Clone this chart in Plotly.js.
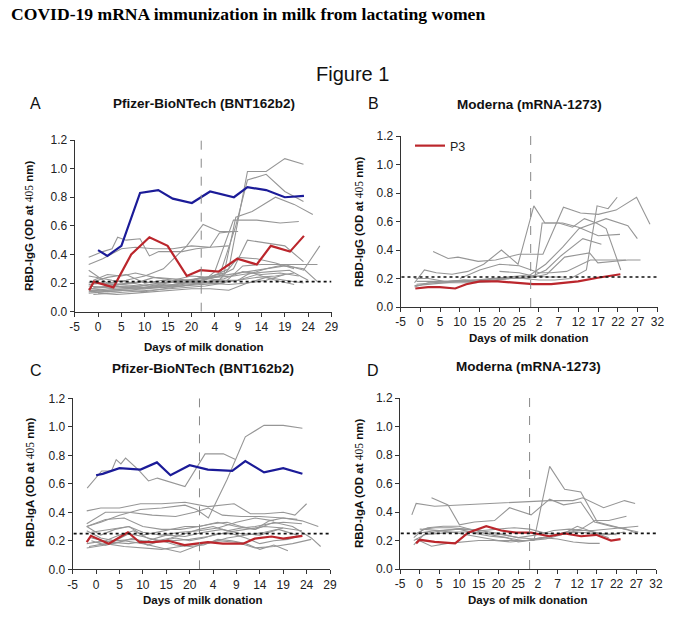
<!DOCTYPE html>
<html>
<head>
<meta charset="utf-8">
<script src="https://cdn.plot.ly/plotly-3.0.1.min.js"></script>
<style>html,body{margin:0;padding:0;background:#fff;}#chart{width:680px;height:634px;}</style>
</head>
<body>
<div id="chart"></div>
<script>
// ---------- axis tick labels ----------
const tickValsPfizer = [-5, 0, 5, 10, 15, 20, 25, 30, 35, 40, 45, 50];
const tickTextPfizer = ["-5", "0", "5", "10", "15", "20", "4", "9", "14", "19", "24", "29"];
const tickValsModerna = [-5, 0, 5, 10, 15, 20, 25, 30, 35, 40, 45, 50, 55, 60];
const tickTextModerna = ["-5", "0", "5", "10", "15", "20", "25", "2", "7", "12", "17", "22", "27", "32"];
const yTickVals = [0, 0.2, 0.4, 0.6, 0.8, 1.0, 1.2];

// second-dose marker and cut-off thresholds
const secondDoseA = 22.1, secondDoseB = 27.9, secondDoseC = 22.1, secondDoseD = 27.9;
const cutoffIgG = 0.21, cutoffIgA = 0.25;

// ---------- Panel A : Pfizer IgG ----------
const A_blue_x = [0, 2, 5, 9, 12.9, 16, 20.1, 24, 29.1, 32, 36, 40, 44.1];
const A_blue_y = [0.43, 0.39, 0.46, 0.83, 0.85, 0.79, 0.76, 0.84, 0.80, 0.87, 0.85, 0.80, 0.81];
const A_red_x = [-1.9, -0.9, 3.3, 7.1, 11, 14.9, 19, 21.9, 25.8, 29.8, 34, 37, 41.1, 44.1];
const A_red_y = [0.15, 0.21, 0.17, 0.40, 0.52, 0.46, 0.25, 0.29, 0.28, 0.37, 0.33, 0.46, 0.42, 0.53];
const A_gray_x = [
  [-2, 1, 5, 9, 13, 16, 20, 24, 28, 32, 36, 40, 44],
  [-2, 2, 6, 10, 14, 18, 22, 26, 29.5, 32, 36, 40, 44],
  [-1, 3, 7, 11, 15, 19, 23, 27, 29.5, 33, 38, 42, 46],
  [-2, 2, 6, 10, 14, 18, 22, 25, 29, 34, 39, 43],
  [-2, 2, 6, 10, 14, 19, 22.5, 26, 30],
  [-2, 1, 3, 4.2, 6, 9, 11, 13, 18, 21, 24, 26, 29],
  [-2, 1, 5, 8, 12, 16, 20, 24, 28],
  [-2, 2, 6, 10, 14, 18, 22, 26, 30, 32, 36, 40, 44, 47.5],
  [-2, 2, 6, 10, 14, 18, 22, 26, 29, 32, 36, 40, 44],
  [-1, 3, 7, 11, 15, 19, 23, 27, 31, 35, 39, 43, 47],
  [-2, 2, 6, 10, 14, 18, 22, 26, 30, 34, 38, 42],
  [-1, 3, 7, 11, 15, 19, 23, 27, 31, 35, 39, 43],
  [-2, 1, 5, 9, 13, 17, 21, 25, 29, 33, 37, 41, 45],
  [-1.5, 2, 6, 10, 14, 18, 22, 26, 30, 34, 38, 42],
  [-2, 3, 8, 12, 16, 20, 24, 28, 32, 36, 40, 44, 47],
  [-1, 2, 5, 8, 12, 16, 20, 24, 28, 32, 36, 40, 44],
  [0, 4, 8, 12, 16, 20, 24, 28, 32, 36, 40],
  [-2, 2, 6, 10, 14, 18, 22, 26, 30, 34, 38, 42]
];
const A_gray_y = [
  [0.18, 0.17, 0.19, 0.18, 0.20, 0.21, 0.22, 0.24, 0.30, 0.98, 0.98, 1.07, 1.03],
  [0.16, 0.15, 0.16, 0.17, 0.18, 0.20, 0.22, 0.25, 0.60, 0.92, 0.96, 0.84, 0.77],
  [0.20, 0.19, 0.20, 0.18, 0.20, 0.22, 0.24, 0.27, 0.66, 0.70, 0.80, 0.75, 0.68],
  [0.15, 0.14, 0.15, 0.16, 0.17, 0.19, 0.20, 0.28, 0.64, 0.64, 0.62, 0.63],
  [0.29, 0.20, 0.22, 0.25, 0.30, 0.46, 0.61, 0.56, 0.56],
  [0.38, 0.42, 0.44, 0.52, 0.50, 0.51, 0.39, 0.42, 0.42, 0.44, 0.45, 0.55, 0.56],
  [0.33, 0.37, 0.44, 0.45, 0.44, 0.44, 0.46, 0.45, 0.46],
  [0.20, 0.24, 0.26, 0.20, 0.22, 0.20, 0.24, 0.22, 0.22, 0.26, 0.30, 0.33, 0.29, 0.46],
  [0.14, 0.16, 0.17, 0.16, 0.18, 0.20, 0.22, 0.25, 0.30, 0.50, 0.48, 0.46, 0.35],
  [0.12, 0.13, 0.14, 0.15, 0.16, 0.17, 0.18, 0.20, 0.32, 0.33, 0.33, 0.33, 0.33],
  [0.13, 0.14, 0.15, 0.14, 0.16, 0.18, 0.20, 0.22, 0.38, 0.37, 0.34, 0.30],
  [0.17, 0.18, 0.17, 0.19, 0.18, 0.20, 0.21, 0.23, 0.28, 0.26, 0.27, 0.25],
  [0.19, 0.20, 0.19, 0.21, 0.20, 0.22, 0.21, 0.24, 0.25, 0.27, 0.28, 0.29, 0.22],
  [0.14, 0.15, 0.16, 0.17, 0.17, 0.18, 0.19, 0.20, 0.22, 0.24, 0.25, 0.27],
  [0.25, 0.22, 0.20, 0.24, 0.22, 0.25, 0.24, 0.26, 0.28, 0.30, 0.32, 0.30, 0.21],
  [0.22, 0.26, 0.25, 0.27, 0.24, 0.23, 0.22, 0.20, 0.19, 0.20, 0.24, 0.22, 0.20],
  [0.13, 0.12, 0.13, 0.14, 0.15, 0.16, 0.16, 0.15, 0.20, 0.22, 0.26],
  [0.16, 0.17, 0.18, 0.17, 0.19, 0.18, 0.20, 0.21, 0.22, 0.26, 0.22, 0.19]
];

// ---------- Panel B : Moderna IgG ----------
const B_red_x = [-1.3, 1.9, 4.9, 8.8, 11.6, 15, 19.6, 24.7, 28.5, 33.1, 39.9, 44.9, 50.6];
const B_red_y = [0.13, 0.14, 0.14, 0.13, 0.16, 0.18, 0.18, 0.17, 0.16, 0.16, 0.18, 0.205, 0.23];
const B_gray_x = [
  [-1.5, 1, 4, 8, 12, 16, 20.5, 24.7, 28.7, 31.5, 36, 40, 45, 50.5],
  [3.2, 7, 9.5, 14.6, 19, 25, 31, 36.2, 40.5, 45, 49.5, 54.7, 58.1],
  [-1.5, 2, 6, 10, 14, 18, 22, 26, 30, 34, 38, 42, 44.7, 47.5, 49.8],
  [-1.5, 2, 6, 10, 14, 18, 22, 26, 29, 30.8, 35, 38.5, 41.5, 44.5, 47, 50.7],
  [-1, 3, 7, 11, 15, 19, 23, 27, 31.7, 36, 40.1, 47, 52.5, 54.9],
  [-1, 3, 7, 11, 15, 19, 23, 27, 31.8, 35.6, 41.1, 45.8],
  [-1.5, 2, 6, 10, 14, 18, 23, 27, 32, 36.5, 41.1, 42.8, 44.9, 52.5, 55.7],
  [10, 15, 20, 25, 30, 33, 37, 41, 43, 48, 52],
  [20, 25, 28, 32, 36]
];
const B_gray_y = [
  [0.17, 0.26, 0.24, 0.23, 0.25, 0.30, 0.40, 0.30, 0.71, 0.59, 0.59, 0.56, 0.50, 0.51],
  [0.39, 0.34, 0.35, 0.32, 0.33, 0.37, 0.37, 0.70, 0.66, 0.65, 0.68, 0.77, 0.58],
  [0.14, 0.17, 0.17, 0.17, 0.17, 0.18, 0.20, 0.20, 0.19, 0.19, 0.20, 0.26, 0.71, 0.69, 0.77],
  [0.20, 0.20, 0.18, 0.18, 0.19, 0.20, 0.21, 0.22, 0.21, 0.59, 0.59, 0.56, 0.62, 0.59, 0.55, 0.26],
  [0.16, 0.17, 0.18, 0.19, 0.19, 0.20, 0.20, 0.21, 0.30, 0.42, 0.55, 0.62, 0.57, 0.48],
  [0.18, 0.18, 0.18, 0.19, 0.18, 0.20, 0.21, 0.20, 0.26, 0.36, 0.48, 0.44],
  [0.15, 0.16, 0.17, 0.18, 0.18, 0.19, 0.20, 0.20, 0.23, 0.35, 0.37, 0.38, 0.31, 0.33, 0.33],
  [0.20, 0.26, 0.30, 0.29, 0.24, 0.24, 0.25, 0.30, 0.33, 0.33, 0.33],
  [0.25, 0.24, 0.22, 0.21, 0.21]
];

// ---------- Panel C : Pfizer IgA ----------
const C_blue_x = [0, 1.4, 5, 9.5, 13, 15.9, 20, 23.9, 29.1, 31.9, 35.9, 40, 44.1];
const C_blue_y = [0.66, 0.67, 0.71, 0.70, 0.75, 0.66, 0.73, 0.70, 0.69, 0.76, 0.68, 0.71, 0.67];
const C_red_x = [-2, -1.1, 2.7, 6.8, 9.3, 12.1, 15.4, 18.9, 23.9, 27.1, 31.4, 33.9, 37.5, 40, 44.1];
const C_red_y = [0.19, 0.235, 0.18, 0.26, 0.19, 0.19, 0.20, 0.17, 0.19, 0.18, 0.18, 0.215, 0.23, 0.215, 0.235];
const C_gray_x = [
  [-2, 1, 5, 9.5, 14, 19, 21.5, 24, 28, 31.9, 35.9, 40, 44.1],
  [-1.9, 1.2, 3.3, 4.3, 5.3, 6.3, 9, 11.2, 13.1, 19, 23.3, 27.2, 29.8],
  [-2, 1, 5, 9.5, 14, 19, 23.9, 29.5, 33, 36, 40, 42.5, 45],
  [-2, 2, 7, 12, 17, 21, 24, 27, 31, 35, 40, 44, 47.5],
  [-2, 2, 6, 10, 14, 18, 22, 26, 30, 34, 38, 42, 46, 48],
  [-2, 1, 4, 7, 10, 13, 16, 19, 22, 25, 28, 31, 34, 37, 40, 43],
  [-2, 1, 4, 7, 10, 13, 16, 19, 22, 25, 28, 31, 34, 37, 40, 44],
  [-2, 2, 5, 8, 11, 14, 17, 20, 23, 26, 29, 32, 35, 38, 41, 44],
  [-1.5, 2, 6, 10, 14, 18, 22, 26, 30, 34, 38, 42, 46],
  [-1, 2, 5, 8, 11, 14, 17, 20, 23, 26, 29, 32, 35, 38, 41],
  [-1, 3, 7, 11, 15, 19, 23, 27, 31, 35, 39, 43],
  [0, 4, 8, 12, 16, 20, 24, 28, 32, 36, 40, 44],
  [-2, 2, 6, 10, 14, 18, 22, 25, 28, 32, 36, 40],
  [-1, 3, 7, 10, 14, 18, 22, 26, 30, 34, 38]
];
const C_gray_y = [
  [0.30, 0.33, 0.38, 0.42, 0.43, 0.45, 0.42, 0.36, 0.63, 0.93, 1.01, 1.01, 0.99],
  [0.57, 0.69, 0.69, 0.77, 0.74, 0.78, 0.70, 0.62, 0.64, 0.58, 0.81, 0.81, 0.77],
  [0.41, 0.43, 0.43, 0.46, 0.46, 0.47, 0.44, 0.46, 0.39, 0.39, 0.40, 0.38, 0.46],
  [0.32, 0.40, 0.40, 0.38, 0.37, 0.40, 0.43, 0.38, 0.37, 0.37, 0.36, 0.34, 0.30],
  [0.30, 0.35, 0.36, 0.30, 0.28, 0.28, 0.30, 0.33, 0.30, 0.28, 0.33, 0.30, 0.22, 0.16],
  [0.30, 0.24, 0.28, 0.30, 0.24, 0.26, 0.28, 0.30, 0.30, 0.32, 0.33, 0.30, 0.28, 0.34, 0.36, 0.35],
  [0.27, 0.22, 0.20, 0.25, 0.23, 0.20, 0.22, 0.25, 0.28, 0.30, 0.27, 0.29, 0.30, 0.32, 0.33, 0.32],
  [0.18, 0.20, 0.24, 0.27, 0.22, 0.20, 0.22, 0.20, 0.22, 0.25, 0.25, 0.22, 0.18, 0.20, 0.21, 0.24],
  [0.16, 0.18, 0.16, 0.15, 0.14, 0.16, 0.18, 0.20, 0.19, 0.15, 0.16, 0.18, 0.21],
  [0.20, 0.17, 0.19, 0.22, 0.17, 0.20, 0.17, 0.16, 0.17, 0.21, 0.20, 0.18, 0.14, 0.17, 0.13],
  [0.22, 0.19, 0.18, 0.20, 0.24, 0.23, 0.26, 0.28, 0.25, 0.24, 0.28, 0.24],
  [0.19, 0.20, 0.21, 0.19, 0.20, 0.21, 0.23, 0.26, 0.28, 0.30, 0.29, 0.27],
  [0.15, 0.17, 0.20, 0.18, 0.15, 0.12, 0.17, 0.19, 0.22, 0.24, 0.26, 0.29],
  [0.26, 0.28, 0.30, 0.26, 0.24, 0.26, 0.27, 0.29, 0.33, 0.36, 0.34]
];

// ---------- Panel D : Moderna IgA ----------
const D_red_x = [-0.9, 0, 3.8, 9, 12.3, 16.9, 20.7, 24.5, 28.3, 32.9, 36.8, 41, 44.8, 48.6, 51];
const D_red_y = [0.18, 0.205, 0.19, 0.18, 0.255, 0.30, 0.27, 0.255, 0.255, 0.23, 0.25, 0.23, 0.24, 0.20, 0.21];
const D_gray_x = [
  [-2, -0.9, 3.8, 33, 38.9, 41.4, 46.7, 52, 54.7],
  [3, 7.2, 10.1, 13.9, 19, 22.8, 28.3, 33, 36.5, 40.9, 44.4, 48.5, 52.5, 55],
  [-1.5, 2, 6, 10, 14, 18, 22, 26, 29, 33, 36.8, 40.9, 45.1, 49, 52, 55.5],
  [-1.5, 1, 5, 9, 13, 17, 21, 25, 29, 33, 37, 41, 44.5, 48, 52.5],
  [-1.5, 1, 4, 8, 12, 16, 20, 24, 28, 32, 36, 40, 44, 48, 52, 55.5],
  [-1.5, 2, 6, 10, 14, 18, 22, 25, 28, 32, 36, 40, 44, 48, 52],
  [-1, 3, 7, 11, 15, 19, 23, 27, 31, 35, 39, 43, 45.7],
  [-0.5, 4, 8, 12, 16, 20, 24, 28, 32, 36, 40, 44, 48],
  [0, 5, 10, 15, 20, 25, 30, 34, 38, 42, 46, 50]
];
const D_gray_y = [
  [0.38, 0.46, 0.44, 0.48, 0.48, 0.50, 0.43, 0.48, 0.46],
  [0.50, 0.45, 0.31, 0.33, 0.34, 0.43, 0.38, 0.49, 0.45, 0.47, 0.33, 0.30, 0.28, 0.25],
  [0.20, 0.25, 0.27, 0.28, 0.25, 0.23, 0.22, 0.20, 0.20, 0.72, 0.56, 0.54, 0.33, 0.30, 0.28, 0.26],
  [0.17, 0.24, 0.25, 0.26, 0.26, 0.25, 0.24, 0.22, 0.21, 0.23, 0.26, 0.28, 0.34, 0.34, 0.37],
  [0.22, 0.28, 0.29, 0.29, 0.28, 0.27, 0.28, 0.29, 0.28, 0.25, 0.24, 0.27, 0.27, 0.28, 0.29, 0.30],
  [0.24, 0.29, 0.30, 0.30, 0.27, 0.24, 0.22, 0.19, 0.20, 0.22, 0.25, 0.26, 0.25, 0.24, 0.26],
  [0.21, 0.16, 0.18, 0.19, 0.20, 0.20, 0.19, 0.20, 0.22, 0.21, 0.19, 0.18, 0.18],
  [0.25, 0.27, 0.26, 0.24, 0.22, 0.20, 0.20, 0.20, 0.21, 0.24, 0.30, 0.26, 0.22],
  [0.28, 0.27, 0.28, 0.27, 0.25, 0.22, 0.24, 0.27, 0.28, 0.27, 0.25, 0.24]
];

// ---------- build ----------
const GRAY = '#969696', RED = '#bb262c', BLUE = '#1b1b98';
const traces = [];
function addPanel(gx, gy, redX, redY, blueX, blueY, xa, ya, showLeg) {
  for (let i = 0; i < gx.length; i++) {
    traces.push({x: gx[i], y: gy[i], xaxis: xa, yaxis: ya, type: 'scatter', mode: 'lines',
      line: {color: GRAY, width: 1.1}, showlegend: false, hoverinfo: 'skip'});
  }
  traces.push({x: redX, y: redY, xaxis: xa, yaxis: ya, type: 'scatter', mode: 'lines', name: 'P3',
    line: {color: RED, width: 2.2}, showlegend: !!showLeg});
  if (blueX) {
    traces.push({x: blueX, y: blueY, xaxis: xa, yaxis: ya, type: 'scatter', mode: 'lines',
      line: {color: BLUE, width: 2.2}, showlegend: false});
  }
}
addPanel(A_gray_x, A_gray_y, A_red_x, A_red_y, A_blue_x, A_blue_y, 'x', 'y', false);
addPanel(B_gray_x, B_gray_y, B_red_x, B_red_y, null, null, 'x2', 'y2', true);
addPanel(C_gray_x, C_gray_y, C_red_x, C_red_y, C_blue_x, C_blue_y, 'x3', 'y3', false);
addPanel(D_gray_x, D_gray_y, D_red_x, D_red_y, null, null, 'x4', 'y4', false);

const W = 680, H = 634;
const px = v => v / W, py = v => 1 - v / H;
const tickFont = {family: 'Liberation Sans, Arial, sans-serif', size: 12, color: '#222'};
function xAxis(dom, vals, text, range, anchor) {
  return {domain: dom, range: range, anchor: anchor, tickmode: 'array', tickvals: vals, ticktext: text,
    showline: true, linecolor: '#333', linewidth: 1, ticks: 'outside', ticklen: 4, tickcolor: '#333',
    showgrid: false, zeroline: false, tickfont: tickFont, fixedrange: true};
}
function yAxis(dom, anchor) {
  return {domain: dom, range: [0, 1.2], anchor: anchor, tickmode: 'array', tickvals: yTickVals, tickformat: '.1f',
    showline: true, linecolor: '#333', linewidth: 1, ticks: 'outside', ticklen: 4, tickcolor: '#333',
    showgrid: false, zeroline: false, tickfont: tickFont, fixedrange: true};
}

const shapes = [];
function vline(xv, xr, yr) {
  shapes.push({type: 'line', xref: xr, yref: yr, x0: xv, x1: xv, y0: 0, y1: 1.2,
    line: {color: '#888', width: 1, dash: 'dash'}});
}
function hline(yv, x0, x1, xr, yr) {
  shapes.push({type: 'line', xref: xr, yref: yr, x0: x0, x1: x1, y0: yv, y1: yv,
    line: {color: '#111', width: 1.6, dash: 'dot'}});
}
vline(secondDoseA, 'x', 'y'); hline(cutoffIgG, -1.8, 50, 'x', 'y');
vline(secondDoseB, 'x2', 'y2'); hline(cutoffIgG, -4.8, 60, 'x2', 'y2');
vline(secondDoseC, 'x3', 'y3'); hline(cutoffIgA, -4.8, 50, 'x3', 'y3');
vline(secondDoseD, 'x4', 'y4'); hline(cutoffIgA, -4.8, 60, 'x4', 'y4');

const SANS = 'Liberation Sans, Arial, sans-serif';
const ann = [];
function txt(t, x, y, size, opts) {
  ann.push(Object.assign({text: t, xref: 'paper', yref: 'paper', x: px(x), y: py(y), showarrow: false,
    xanchor: 'center', yanchor: 'middle', font: {family: SANS, size: size, color: '#111'}}, opts || {}));
}
txt('<b>COVID-19 mRNA immunization in milk from lactating women</b>', 9, 14, 17.6,
  {xanchor: 'left', font: {family: 'Liberation Serif, Times New Roman, serif', size: 17.6, color: '#000'}});
txt('Figure 1', 352, 74, 20);
// panel letters & titles
txt('A', 35, 104, 16); txt('<b>Pfizer-BioNTech (BNT162b2)</b>', 203.5, 104, 13.5);
txt('B', 373, 104, 16); txt('<b>Moderna (mRNA-1273)</b>', 529, 105, 13.5);
txt('C', 36, 370, 16); txt('<b>Pfizer-BioNTech (BNT162b2)</b>', 203, 368, 13.5);
txt('D', 373, 370, 16); txt('<b>Moderna (mRNA-1273)</b>', 528.5, 366, 13.5);
// axis titles
const num = '<span style="font-family:Liberation Serif, Times New Roman, serif;font-weight:normal">405</span>';
const igg = '<b>RBD-IgG (OD at </b>' + num + '<b> nm)</b>';
const iga = '<b>RBD-IgA (OD at </b>' + num + '<b> nm)</b>';
txt(igg, 29, 226, 11.5, {textangle: -90});
txt(igg, 359, 222, 11.5, {textangle: -90});
txt(iga, 30, 483, 11.5, {textangle: -90});
txt(iga, 359, 484, 11.5, {textangle: -90});
const days = '<b>Days of milk donation</b>';
txt(days, 204, 347, 11.5);
txt(days, 529, 338, 11.5);
txt(days, 203, 600, 11.5);
txt(days, 528, 600, 11.5);

const layout = {
  width: W, height: H, margin: {l: 0, r: 0, t: 0, b: 0}, paper_bgcolor: '#fff', plot_bgcolor: '#fff',
  showlegend: true,
  legend: {x: px(410), y: py(131), xanchor: 'left', yanchor: 'top', bgcolor: 'rgba(0,0,0,0)',
    font: {family: SANS, size: 12.5, color: '#222'}},
  xaxis: xAxis([px(74.7), px(331.5)], tickValsPfizer, tickTextPfizer, [-5, 50], 'y'),
  yaxis: yAxis([1 - 311.7 / H, 1 - 140 / H], 'x'),
  xaxis2: xAxis([px(400.7), px(657.5)], tickValsModerna, tickTextModerna, [-5, 60], 'y2'),
  yaxis2: yAxis([1 - 307 / H, 1 - 136 / H], 'x2'),
  xaxis3: xAxis([px(72.7), px(330)], tickValsPfizer, tickTextPfizer, [-5, 50], 'y3'),
  yaxis3: yAxis([1 - 569.3 / H, 1 - 398.3 / H], 'x3'),
  xaxis4: xAxis([px(400), px(656)], tickValsModerna, tickTextModerna, [-5, 60], 'y4'),
  yaxis4: yAxis([1 - 569 / H, 1 - 398 / H], 'x4'),
  shapes: shapes,
  annotations: ann
};
Plotly.newPlot('chart', traces, layout, {displayModeBar: false, staticPlot: true});
</script>
</body>
</html>
